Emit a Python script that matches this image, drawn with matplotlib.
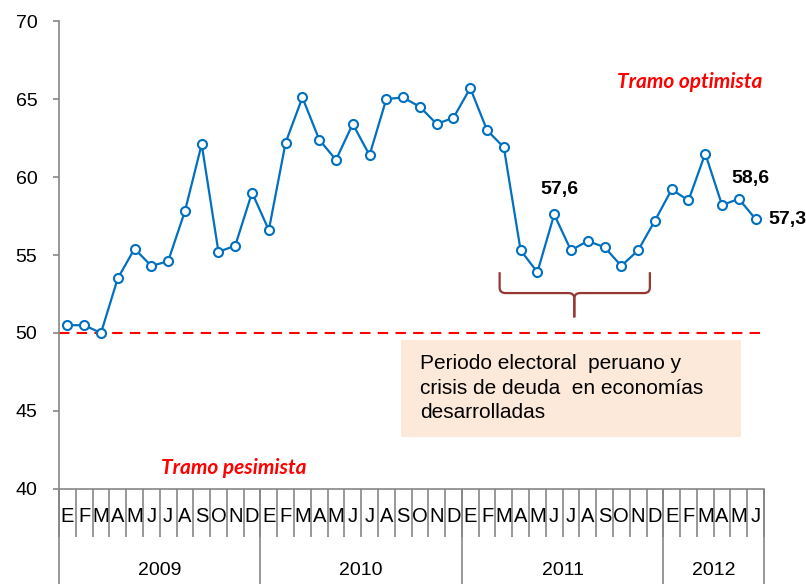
import matplotlib.pyplot as plt
from matplotlib.path import Path
from matplotlib.patches import PathPatch, Rectangle

plt.rcParams['font.family'] = ['Liberation Sans', 'DejaVu Sans']

meses = ["E", "F", "M", "A", "M", "J", "J", "A", "S", "O", "N", "D"] * 3 + ["E", "F", "M", "A", "M", "J"]
anios = ["2009", "2010", "2011", "2012"]
meses_por_anio = [12, 12, 12, 6]
ice = [50.5, 50.5, 50.0, 53.5, 55.4, 54.3, 54.6, 57.8, 62.1, 55.2, 55.6, 59.0,
       56.6, 62.2, 65.1, 62.4, 61.1, 63.4, 61.4, 65.0, 65.1, 64.5, 63.4, 63.8,
       65.7, 63.0, 61.9, 55.3, 53.9, 57.6, 55.3, 55.9, 55.5, 54.3, 55.3, 57.2,
       59.2, 58.5, 61.5, 58.2, 58.6, 57.3]
etiquetas = {29: "57,6", 40: "58,6", 41: "57,3"}
umbral = 50

gris = "#868686"
azul = "#0070C0"

fig = plt.figure(figsize=(8.06, 5.84), dpi=100)
ax = fig.add_axes([0.0732, 0.1627, 0.8747, 0.8013])

x = [i + 0.5 for i in range(len(ice))]
ax.plot(x, ice, color=azul, lw=1.6, marker="o", ms=6.5, mfc="white", mec=azul, mew=1.5, zorder=3)
ax.plot([0, len(ice) + 0.2], [umbral, umbral], color="red", lw=1.5, ls=(0, (5, 3.5)), zorder=2, clip_on=False)

ax.set_xlim(0, len(ice))
ax.set_ylim(40, 70)
ax.set_yticks(range(40, 71, 5))
ax.tick_params(axis="y", labelsize=14, color=gris, length=4.5, width=1.2, pad=11)

# ejes estilo excel: separadores de meses y de anios
ax.set_xticks(range(len(ice) + 1))
ax.set_xticklabels([])
ax.tick_params(axis="x", which="major", color=gris, length=34.5, width=1.2)
limites = [0]
for n in meses_por_anio:
    limites.append(limites[-1] + n)
ax.set_xticks(limites, minor=True)
ax.xaxis.remove_overlapping_locs = False
ax.tick_params(axis="x", which="minor", color=gris, length=75, width=1.2)

for s in ["top", "right"]:
    ax.spines[s].set_visible(False)
for s in ["left", "bottom"]:
    ax.spines[s].set_color(gris)
    ax.spines[s].set_linewidth(1.2)

trans = ax.get_xaxis_transform()
for i, m in enumerate(meses):
    ax.text(i + 0.5, -0.058, m, transform=trans, ha="center", va="center", fontsize=14.5)
for k, a in enumerate(anios):
    ax.text((limites[k] + limites[k + 1]) / 2, -0.175, a, transform=trans, ha="center", va="center", fontsize=14)

# etiquetas de datos
ax.annotate(etiquetas[29], (x[29], ice[29]), xytext=(4, 18), textcoords="offset points",
            ha="center", va="center", fontsize=14, fontweight="bold")
ax.annotate(etiquetas[40], (x[40], ice[40]), xytext=(8, 15), textcoords="offset points",
            ha="center", va="center", fontsize=14, fontweight="bold")
ax.annotate(etiquetas[41], (x[41], ice[41]), xytext=(9, 0), textcoords="offset points",
            ha="left", va="center", fontsize=14, fontweight="bold", annotation_clip=False)

ax.text(37.6, 66.1, "Tramo optimista", color="red", fontsize=15, fontweight="bold", style="italic",
        ha="center", va="center", family=["Lato", "DejaVu Sans"])
ax.text(10.4, 41.35, "Tramo pesimista", color="red", fontsize=15, fontweight="bold", style="italic",
        ha="center", va="center", family=["Lato", "DejaVu Sans"])

# recuadro
ax.add_patch(Rectangle((20.35, 43.33), 20.25, 6.2, facecolor="#FDE9D9", edgecolor="none", zorder=1))
ax.text(21.5, 48.65, "Periodo electoral  peruano y\ncrisis de deuda  en economías\ndesarrolladas",
        fontsize=15, ha="left", va="top", linespacing=1.38)

# llave
x0, x1, xc = 26.25, 35.2, 30.7
yt, ym, yb = 53.9, 52.56, 51.0
rx, ry = 0.35, 0.35
izq = Path([(x0, yt), (x0, ym + ry), (x0, ym), (x0 + rx, ym), (xc - rx, ym), (xc, ym), (xc, ym - ry), (xc, yb)],
           [Path.MOVETO, Path.LINETO, Path.CURVE3, Path.CURVE3, Path.LINETO, Path.CURVE3, Path.CURVE3, Path.LINETO])
der = Path([(x1, yt), (x1, ym + ry), (x1, ym), (x1 - rx, ym), (xc + rx, ym), (xc, ym), (xc, ym - ry), (xc, yb)],
           [Path.MOVETO, Path.LINETO, Path.CURVE3, Path.CURVE3, Path.LINETO, Path.CURVE3, Path.CURVE3, Path.LINETO])
for p in [izq, der]:
    ax.add_patch(PathPatch(p, facecolor="none", edgecolor="#953735", lw=1.6))

fig.savefig("out.png", dpi=100)
